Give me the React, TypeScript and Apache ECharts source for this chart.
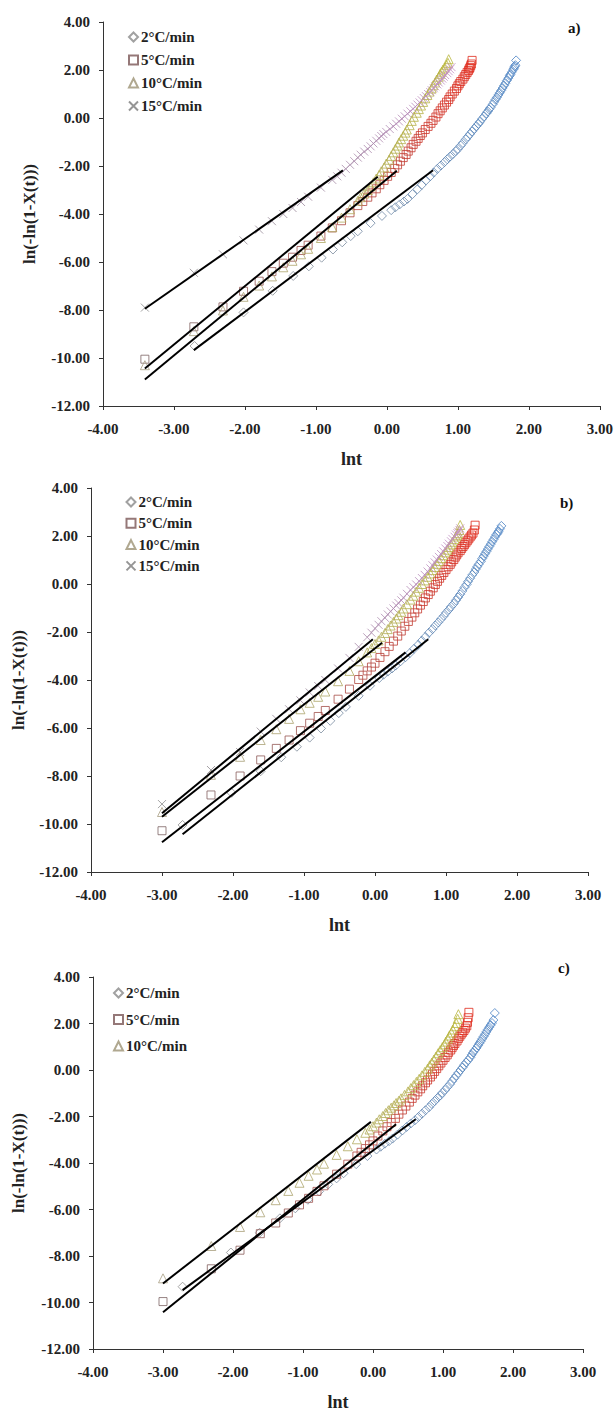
import React, { useEffect, useRef } from "react";
import * as echarts from "echarts";

// ---------- data ----------
const RATES = ["2°C/min", "5°C/min", "10°C/min", "15°C/min"];
const PANEL_TAGS = ["a)", "b)", "c)"];
const X_RANGE = [-4, 3, 1];
const Y_RANGE = [-12, 4, 2];
const X_TITLE = "lnt";
const Y_TITLE = "ln(-ln(1-X(t)))";

// Panel a
const A_2: number[][] = [
  [-2.71, -9.5], [-2.02, -8.1], [-1.61, -7.2], [-1.32, -6.58], [-1.1, -6.18], [-0.92, -5.82], [-0.76, -5.48], [-0.63, -5.18],
  [-0.51, -4.92], [-0.41, -4.72], [-0.23, -4.38], [-0.07, -4.08],
  [0.06, -3.84], [0.12, -3.72], [0.18, -3.6], [0.24, -3.48], [0.29, -3.37], [0.36, -3.17], [0.43, -2.97], [0.49, -2.79],
  [0.55, -2.6], [0.61, -2.43], [0.66, -2.27], [0.71, -2.12], [0.76, -1.98], [0.81, -1.84], [0.85, -1.72], [0.89, -1.61],
  [0.93, -1.5], [0.97, -1.38], [1.0, -1.29], [1.04, -1.15], [1.07, -1.04], [1.11, -0.89], [1.14, -0.78], [1.17, -0.67],
  [1.2, -0.56], [1.23, -0.45], [1.26, -0.34], [1.29, -0.24], [1.31, -0.16], [1.34, -0.04], [1.37, 0.07], [1.4, 0.19],
  [1.42, 0.27], [1.44, 0.36], [1.46, 0.44], [1.49, 0.57], [1.51, 0.67], [1.53, 0.77], [1.55, 0.86], [1.57, 0.96],
  [1.59, 1.05], [1.61, 1.15], [1.63, 1.25], [1.65, 1.35], [1.67, 1.45], [1.69, 1.56], [1.71, 1.66], [1.73, 1.76],
  [1.74, 1.82], [1.76, 1.92], [1.78, 2.02], [1.79, 2.08], [1.8, 2.15], [1.81, 2.2], [1.82, 2.4],
];
const A_5: number[][] = [
  [-3.41, -10.05], [-2.72, -8.7], [-2.31, -7.87], [-2.02, -7.22], [-1.8, -6.8], [-1.62, -6.4], [-1.46, -6.05], [-1.33, -5.8],
  [-1.21, -5.52], [-1.11, -5.3], [-0.93, -4.92], [-0.77, -4.58], [-0.64, -4.28], [-0.52, -3.95],
  [-0.41, -3.65], [-0.34, -3.48], [-0.27, -3.3], [-0.21, -3.12], [-0.15, -2.95], [-0.1, -2.78], [-0.04, -2.6], [0.01, -2.43],
  [0.06, -2.27], [0.11, -2.1], [0.15, -1.95], [0.19, -1.8], [0.23, -1.65], [0.27, -1.52], [0.3, -1.38], [0.34, -1.24],
  [0.37, -1.1], [0.41, -0.97], [0.44, -0.85], [0.47, -0.73], [0.5, -0.62], [0.54, -0.48], [0.58, -0.35], [0.62, -0.22],
  [0.65, -0.1], [0.69, 0.04], [0.72, 0.18], [0.75, 0.3], [0.78, 0.42], [0.81, 0.54], [0.84, 0.66], [0.87, 0.77],
  [0.89, 0.88], [0.92, 1.0], [0.95, 1.12], [0.98, 1.23], [1.0, 1.34], [1.02, 1.43], [1.04, 1.52], [1.07, 1.62],
  [1.09, 1.72], [1.11, 1.81], [1.13, 1.9], [1.15, 1.98], [1.16, 2.05], [1.17, 2.1], [1.18, 2.18], [1.19, 2.25], [1.2, 2.4],
];
const A_10: number[][] = [
  [-3.41, -10.3], [-2.72, -8.88], [-2.31, -8.02], [-2.02, -7.45], [-1.8, -6.98], [-1.62, -6.6], [-1.46, -6.22], [-1.33, -5.95],
  [-1.21, -5.68], [-1.11, -5.45], [-0.93, -5.0], [-0.77, -4.55], [-0.64, -4.15], [-0.52, -3.8],
  [-0.41, -3.45], [-0.37, -3.3], [-0.32, -3.15], [-0.27, -3.0], [-0.23, -2.85], [-0.19, -2.68], [-0.15, -2.52], [-0.11, -2.37],
  [-0.08, -2.22], [-0.04, -2.06], [-0.01, -1.9], [0.03, -1.74], [0.06, -1.58], [0.09, -1.43], [0.12, -1.28], [0.15, -1.15],
  [0.17, -1.02], [0.2, -0.88], [0.23, -0.74], [0.26, -0.61], [0.28, -0.48], [0.32, -0.3], [0.35, -0.12], [0.38, 0.05],
  [0.42, 0.22], [0.45, 0.37], [0.48, 0.52], [0.51, 0.67], [0.54, 0.82], [0.57, 0.96], [0.6, 1.1], [0.63, 1.23],
  [0.65, 1.36], [0.68, 1.48], [0.7, 1.6], [0.73, 1.72], [0.75, 1.84], [0.77, 1.93], [0.79, 2.02], [0.81, 2.1],
  [0.84, 2.22], [0.86, 2.3], [0.87, 2.45],
];
const A_15: number[][] = [
  [-3.41, -7.9], [-2.72, -6.45], [-2.31, -5.68], [-2.02, -5.1], [-1.8, -4.65], [-1.62, -4.3], [-1.46, -4.0], [-1.33, -3.75],
  [-1.21, -3.5], [-1.11, -3.28], [-0.93, -2.9], [-0.77, -2.58], [-0.7, -2.43], [-0.64, -2.28], [-0.58, -2.12], [-0.52, -1.95],
  [-0.46, -1.8], [-0.41, -1.65], [-0.37, -1.53], [-0.32, -1.4], [-0.27, -1.29], [-0.23, -1.18], [-0.19, -1.06], [-0.15, -0.95],
  [-0.11, -0.85], [-0.08, -0.75], [-0.05, -0.67], [-0.01, -0.58], [0.04, -0.46], [0.09, -0.35], [0.13, -0.24], [0.17, -0.14],
  [0.21, -0.03], [0.25, 0.07], [0.29, 0.18], [0.33, 0.28], [0.37, 0.38], [0.4, 0.47], [0.43, 0.56], [0.46, 0.65],
  [0.49, 0.74], [0.52, 0.83], [0.55, 0.91], [0.58, 1.0], [0.61, 1.08], [0.63, 1.16], [0.66, 1.24], [0.68, 1.32],
  [0.71, 1.4], [0.73, 1.48], [0.76, 1.56], [0.78, 1.64], [0.8, 1.72], [0.82, 1.79], [0.85, 1.87], [0.87, 1.95],
  [0.89, 2.03], [0.91, 2.12],
];
const A_FIT_2 = [[-2.72, -9.67], [0.65, -2.18]];
const A_FIT_5 = [[-3.41, -10.44], [-0.13, -2.45]];
const A_FIT_10 = [[-3.41, -10.9], [0.14, -2.2]];
const A_FIT_15 = [[-3.41, -7.95], [-0.62, -2.18]];

// Panel b
const B_2: number[][] = [
  [-2.71, -10.04], [-2.02, -8.7], [-1.61, -7.8], [-1.32, -7.22], [-1.1, -6.78], [-0.92, -6.4], [-0.76, -6.02], [-0.63, -5.7],
  [-0.51, -5.38], [-0.41, -5.12], [-0.23, -4.66], [-0.07, -4.24],
  [0.06, -3.92], [0.12, -3.78], [0.18, -3.65], [0.24, -3.52], [0.29, -3.4], [0.36, -3.22], [0.43, -3.05], [0.49, -2.88],
  [0.55, -2.7], [0.61, -2.53], [0.66, -2.36], [0.71, -2.2], [0.76, -2.03], [0.81, -1.88], [0.85, -1.73], [0.89, -1.6],
  [0.93, -1.46], [0.97, -1.33], [1.0, -1.2], [1.04, -1.07], [1.07, -0.95], [1.11, -0.82], [1.14, -0.68], [1.17, -0.56],
  [1.2, -0.43], [1.23, -0.29], [1.26, -0.14], [1.29, -0.02], [1.31, 0.1], [1.34, 0.24], [1.37, 0.38], [1.4, 0.5],
  [1.42, 0.62], [1.44, 0.72], [1.46, 0.82], [1.49, 0.94], [1.51, 1.06], [1.53, 1.16], [1.55, 1.26], [1.57, 1.36],
  [1.59, 1.46], [1.61, 1.56], [1.63, 1.66], [1.65, 1.76], [1.67, 1.86], [1.69, 1.96], [1.71, 2.06], [1.73, 2.13],
  [1.74, 2.2], [1.76, 2.3], [1.78, 2.42],
];
const B_5: number[][] = [
  [-3.0, -10.28], [-2.31, -8.79], [-1.9, -8.0], [-1.61, -7.33], [-1.39, -6.85], [-1.21, -6.5], [-1.05, -6.11], [-0.92, -5.8],
  [-0.8, -5.52], [-0.7, -5.27], [-0.52, -4.8], [-0.36, -4.38],
  [-0.23, -3.98], [-0.17, -3.8], [-0.11, -3.62], [-0.05, -3.46], [0.0, -3.3], [0.07, -3.06], [0.14, -2.82], [0.2, -2.6],
  [0.26, -2.38], [0.32, -2.17], [0.37, -1.96], [0.42, -1.76], [0.47, -1.56], [0.52, -1.38], [0.56, -1.2], [0.6, -1.04],
  [0.64, -0.88], [0.68, -0.73], [0.71, -0.58], [0.75, -0.44], [0.78, -0.3], [0.82, -0.16], [0.85, -0.02], [0.88, 0.11],
  [0.91, 0.24], [0.94, 0.36], [0.97, 0.48], [1.0, 0.6], [1.03, 0.72], [1.06, 0.82], [1.08, 0.92], [1.11, 1.02],
  [1.13, 1.12], [1.15, 1.21], [1.17, 1.3], [1.2, 1.39], [1.22, 1.48], [1.24, 1.56], [1.26, 1.64], [1.28, 1.72],
  [1.3, 1.8], [1.32, 1.88], [1.34, 1.96], [1.36, 2.04], [1.38, 2.12], [1.4, 2.25], [1.41, 2.45],
];
const B_10: number[][] = [
  [-3.0, -9.5], [-2.31, -7.95], [-1.9, -7.2], [-1.61, -6.5], [-1.39, -6.05], [-1.21, -5.62], [-1.05, -5.22], [-0.92, -4.95],
  [-0.8, -4.7], [-0.7, -4.48], [-0.52, -4.05], [-0.36, -3.62], [-0.23, -3.22],
  [-0.11, -2.85], [-0.05, -2.67], [0.0, -2.5], [0.05, -2.35], [0.09, -2.2], [0.14, -2.04], [0.18, -1.88], [0.22, -1.73],
  [0.26, -1.58], [0.3, -1.44], [0.33, -1.3], [0.37, -1.16], [0.4, -1.02], [0.45, -0.84], [0.5, -0.65], [0.54, -0.49],
  [0.58, -0.32], [0.62, -0.16], [0.66, 0.0], [0.7, 0.15], [0.74, 0.3], [0.78, 0.44], [0.81, 0.58], [0.84, 0.71],
  [0.87, 0.84], [0.9, 0.96], [0.93, 1.08], [0.96, 1.2], [0.99, 1.32], [1.02, 1.43], [1.04, 1.54], [1.07, 1.65],
  [1.09, 1.76], [1.12, 1.87], [1.14, 1.98], [1.16, 2.05], [1.17, 2.12], [1.19, 2.25], [1.2, 2.46],
];
const B_15: number[][] = [
  [-3.0, -9.17], [-2.31, -7.75], [-1.9, -7.0], [-1.61, -6.15], [-1.39, -5.62], [-1.21, -5.22], [-1.05, -4.85], [-0.92, -4.52],
  [-0.8, -4.25], [-0.7, -4.0], [-0.52, -3.52], [-0.36, -3.08], [-0.23, -2.62],
  [-0.11, -2.22], [-0.05, -2.03], [0.0, -1.85], [0.05, -1.7], [0.09, -1.55], [0.14, -1.41], [0.18, -1.27], [0.22, -1.14],
  [0.26, -1.02], [0.3, -0.9], [0.33, -0.79], [0.37, -0.68], [0.4, -0.57], [0.45, -0.41], [0.5, -0.25], [0.54, -0.13],
  [0.58, -0.02], [0.62, 0.12], [0.66, 0.25], [0.7, 0.38], [0.74, 0.52], [0.78, 0.65], [0.81, 0.78], [0.84, 0.9],
  [0.87, 1.02], [0.9, 1.13], [0.93, 1.25], [0.96, 1.36], [0.99, 1.48], [1.02, 1.58], [1.04, 1.68], [1.07, 1.78],
  [1.09, 1.88], [1.12, 1.97], [1.14, 2.06], [1.16, 2.12], [1.17, 2.18], [1.19, 2.25], [1.2, 2.32],
];
const B_FIT_2 = [[-2.71, -10.43], [0.75, -2.3]];
const B_FIT_5 = [[-3.0, -10.76], [0.43, -2.85]];
const B_FIT_10 = [[-3.0, -9.7], [0.1, -2.45]];
const B_FIT_15 = [[-3.0, -9.55], [-0.03, -2.3]];

// Panel c
const C_2: number[][] = [
  [-2.72, -9.32], [-2.03, -7.85], [-1.62, -7.0], [-1.33, -6.38], [-1.11, -5.95], [-0.93, -5.58], [-0.77, -5.22], [-0.64, -4.92],
  [-0.52, -4.66], [-0.42, -4.44], [-0.24, -4.05], [-0.08, -3.7],
  [0.05, -3.42], [0.11, -3.3], [0.17, -3.17], [0.23, -3.06], [0.28, -2.95], [0.35, -2.78], [0.42, -2.6], [0.48, -2.45],
  [0.54, -2.3], [0.6, -2.16], [0.65, -2.02], [0.7, -1.88], [0.75, -1.73], [0.8, -1.6], [0.84, -1.46], [0.88, -1.34],
  [0.92, -1.21], [0.96, -1.1], [0.99, -0.98], [1.03, -0.86], [1.06, -0.74], [1.1, -0.61], [1.13, -0.48], [1.16, -0.36],
  [1.19, -0.24], [1.22, -0.12], [1.25, 0.0], [1.28, 0.11], [1.3, 0.21], [1.33, 0.32], [1.36, 0.43], [1.39, 0.54],
  [1.41, 0.65], [1.43, 0.75], [1.45, 0.84], [1.48, 0.95], [1.5, 1.05], [1.52, 1.15], [1.54, 1.24], [1.56, 1.34],
  [1.58, 1.44], [1.6, 1.54], [1.62, 1.64], [1.64, 1.74], [1.66, 1.84], [1.68, 1.93], [1.7, 2.02], [1.72, 2.15], [1.74, 2.45],
];
const C_5: number[][] = [
  [-3.0, -9.96], [-2.31, -8.55], [-1.9, -7.75], [-1.61, -7.04], [-1.39, -6.58], [-1.21, -6.15], [-1.05, -5.8], [-0.92, -5.52],
  [-0.8, -5.22], [-0.7, -4.98], [-0.52, -4.48], [-0.36, -4.05],
  [-0.23, -3.7], [-0.17, -3.54], [-0.11, -3.38], [-0.05, -3.22], [0.0, -3.05], [0.07, -2.84], [0.14, -2.62], [0.2, -2.44],
  [0.26, -2.26], [0.32, -2.08], [0.37, -1.9], [0.42, -1.72], [0.47, -1.55], [0.52, -1.38], [0.56, -1.22], [0.6, -1.08],
  [0.64, -0.94], [0.68, -0.81], [0.71, -0.68], [0.75, -0.55], [0.78, -0.43], [0.82, -0.3], [0.85, -0.18], [0.88, -0.06],
  [0.91, 0.06], [0.94, 0.18], [0.97, 0.3], [1.0, 0.42], [1.03, 0.54], [1.06, 0.65], [1.08, 0.76], [1.11, 0.86],
  [1.13, 0.96], [1.15, 1.05], [1.17, 1.14], [1.2, 1.25], [1.22, 1.36], [1.24, 1.45], [1.26, 1.54], [1.28, 1.62],
  [1.3, 1.7], [1.32, 1.8], [1.34, 1.9], [1.35, 2.05], [1.36, 2.25], [1.37, 2.48],
];
const C_10: number[][] = [
  [-3.0, -8.96], [-2.31, -7.57], [-1.9, -6.75], [-1.61, -6.12], [-1.39, -5.6], [-1.21, -5.2], [-1.05, -4.85], [-0.92, -4.55],
  [-0.8, -4.28], [-0.7, -4.03], [-0.52, -3.65], [-0.36, -3.28], [-0.23, -2.98],
  [-0.11, -2.7], [-0.05, -2.56], [0.0, -2.42], [0.05, -2.26], [0.09, -2.12], [0.14, -1.98], [0.18, -1.85], [0.22, -1.73],
  [0.26, -1.62], [0.3, -1.52], [0.33, -1.42], [0.37, -1.32], [0.4, -1.22], [0.45, -1.07], [0.5, -0.92], [0.54, -0.78],
  [0.58, -0.65], [0.62, -0.51], [0.66, -0.38], [0.7, -0.23], [0.74, -0.08], [0.78, 0.06], [0.81, 0.2], [0.84, 0.32],
  [0.87, 0.45], [0.9, 0.58], [0.93, 0.72], [0.96, 0.85], [0.99, 0.98], [1.02, 1.1], [1.04, 1.22], [1.07, 1.35],
  [1.09, 1.48], [1.12, 1.61], [1.14, 1.74], [1.17, 1.88], [1.19, 2.02], [1.21, 2.2], [1.22, 2.4],
];
const C_FIT_2 = [[-2.72, -9.47], [0.61, -2.12]];
const C_FIT_5 = [[-3.0, -10.42], [0.33, -2.33]];
const C_FIT_10 = [[-3.0, -9.18], [-0.03, -2.23]];

// ---------- styling / layout ----------
const FONT = "Liberation Serif";
const CROSS = "path://M0,0L10,10M10,0L0,10";
const STYLES = [
  { symbol: "diamond", size: 9, from: "#8f8f8f", to: "#4a82c4", legend: "#8a8a8a" },
  { symbol: "rect", size: 8, from: "#7d6464", to: "#e02a1c", legend: "#7a5656" },
  { symbol: "triangle", size: 9, from: "#a89d82", to: "#b9b63e", legend: "#9c9274" },
  { symbol: CROSS, size: 8, from: "#8a8a8a", to: "#c48ec6", legend: "#7a7a7a" },
];
const PANELS = [
  { grid: { left: 103, top: 22, width: 497, height: 384 }, yGap: 65, tag: [575, 28],
    legend: { left: 128, top: 29.5, gap: 8 }, series: [A_2, A_5, A_10, A_15], fits: [A_FIT_2, A_FIT_5, A_FIT_10, A_FIT_15] },
  { grid: { left: 91, top: 488, width: 497, height: 384 }, yGap: 64, tag: [567, 503],
    legend: { left: 125.5, top: 494.5, gap: 6.3 }, series: [B_2, B_5, B_10, B_15], fits: [B_FIT_2, B_FIT_5, B_FIT_10, B_FIT_15] },
  { grid: { left: 93, top: 977, width: 490, height: 374 }, yGap: 66, tag: [565, 968],
    legend: { left: 113, top: 985.5, gap: 11.5 }, series: [C_2, C_5, C_10], fits: [C_FIT_2, C_FIT_5, C_FIT_10] },
];

function hex(c: string) {
  return [1, 3, 5].map((i) => parseInt(c.slice(i, i + 2), 16));
}
function mix(a: string, b: string, t: number) {
  const A = hex(a), B = hex(b);
  return "rgb(" + A.map((v, i) => Math.round(v + (B[i] - v) * t)).join(",") + ")";
}

function buildOption() {
  const grid: any[] = [], xAxis: any[] = [], yAxis: any[] = [], series: any[] = [], legend: any[] = [], graphic: any[] = [];
  const label = { fontFamily: FONT, fontWeight: "bold", fontSize: 15, color: "#222" };
  PANELS.forEach((p, gi) => {
    grid.push(p.grid);
    xAxis.push({
      type: "value", gridIndex: gi, min: X_RANGE[0], max: X_RANGE[1], interval: X_RANGE[2],
      name: X_TITLE, nameLocation: "middle", nameGap: 44,
      nameTextStyle: { fontFamily: FONT, fontWeight: "bold", fontSize: 18, color: "#222" },
      axisLine: { onZero: false, lineStyle: { color: "#333", width: 1 } },
      axisTick: { show: true, length: 4, lineStyle: { color: "#333" } },
      axisLabel: { ...label, margin: 15, formatter: (v: number) => v.toFixed(2) },
      splitLine: { show: false },
    });
    yAxis.push({
      type: "value", gridIndex: gi, min: Y_RANGE[0], max: Y_RANGE[1], interval: Y_RANGE[2],
      name: Y_TITLE, nameLocation: "middle", nameGap: p.yGap,
      nameTextStyle: { fontFamily: FONT, fontWeight: "bold", fontSize: 17, color: "#222" },
      axisLine: { show: true, onZero: false, lineStyle: { color: "#333", width: 1 } },
      axisTick: { show: true, length: 4, lineStyle: { color: "#333" } },
      axisLabel: { ...label, margin: 13, formatter: (v: number) => v.toFixed(2) },
      splitLine: { show: false },
    });
    p.series.forEach((data, si) => {
      const st = STYLES[si];
      const xs = data.map((d) => d[0]);
      const x0 = Math.min(...xs), x1 = Math.max(...xs);
      series.push({
        type: "scatter", name: RATES[si], xAxisIndex: gi, yAxisIndex: gi,
        symbol: st.symbol, symbolSize: st.size, silent: true,
        itemStyle: { color: "rgba(0,0,0,0)", borderColor: st.legend, borderWidth: 1 },
        data: data.map(([x, y]) => ({
          value: [x, y],
          itemStyle: { color: "rgba(0,0,0,0)", borderColor: mix(st.from, st.to, Math.pow((x - x0) / (x1 - x0), 1.5)), borderWidth: 1 },
        })),
      });
    });
    p.fits.forEach((f, fi) => {
      series.push({
        type: "line", name: "fit " + PANEL_TAGS[gi] + " " + RATES[fi], xAxisIndex: gi, yAxisIndex: gi,
        symbol: "none", silent: true, data: f, lineStyle: { color: "#000", width: 2 }, z: 5,
      });
    });
    legend.push({
      data: RATES.slice(0, p.series.length), orient: "vertical", left: p.legend.left, top: p.legend.top,
      itemGap: p.legend.gap, itemWidth: 9, itemHeight: 9, padding: 0, selectedMode: false,
      textStyle: { fontFamily: FONT, fontWeight: "bold", fontSize: 15, color: "#222", padding: [0, 0, 0, -2] },
    });
    graphic.push({
      type: "text", left: p.tag[0] - 7, top: p.tag[1] - 8,
      style: { text: PANEL_TAGS[gi], fontFamily: FONT, fontWeight: "bold", fontSize: 15, fill: "#111" },
    });
  });
  return { animation: false, backgroundColor: "#fff", grid, xAxis, yAxis, series, legend, graphic };
}

export default function App() {
  const ref = useRef<HTMLDivElement>(null);
  useEffect(() => {
    if (!ref.current) return;
    const chart = echarts.init(ref.current, undefined, { renderer: "svg" });
    chart.setOption(buildOption() as any);
    return () => chart.dispose();
  }, []);
  return (
    <div style={{ position: "absolute", left: 0, top: 0, width: 616, height: 1412, background: "#fff" }}>
      <div ref={ref} style={{ width: 616, height: 1412 }} />
    </div>
  );
}
